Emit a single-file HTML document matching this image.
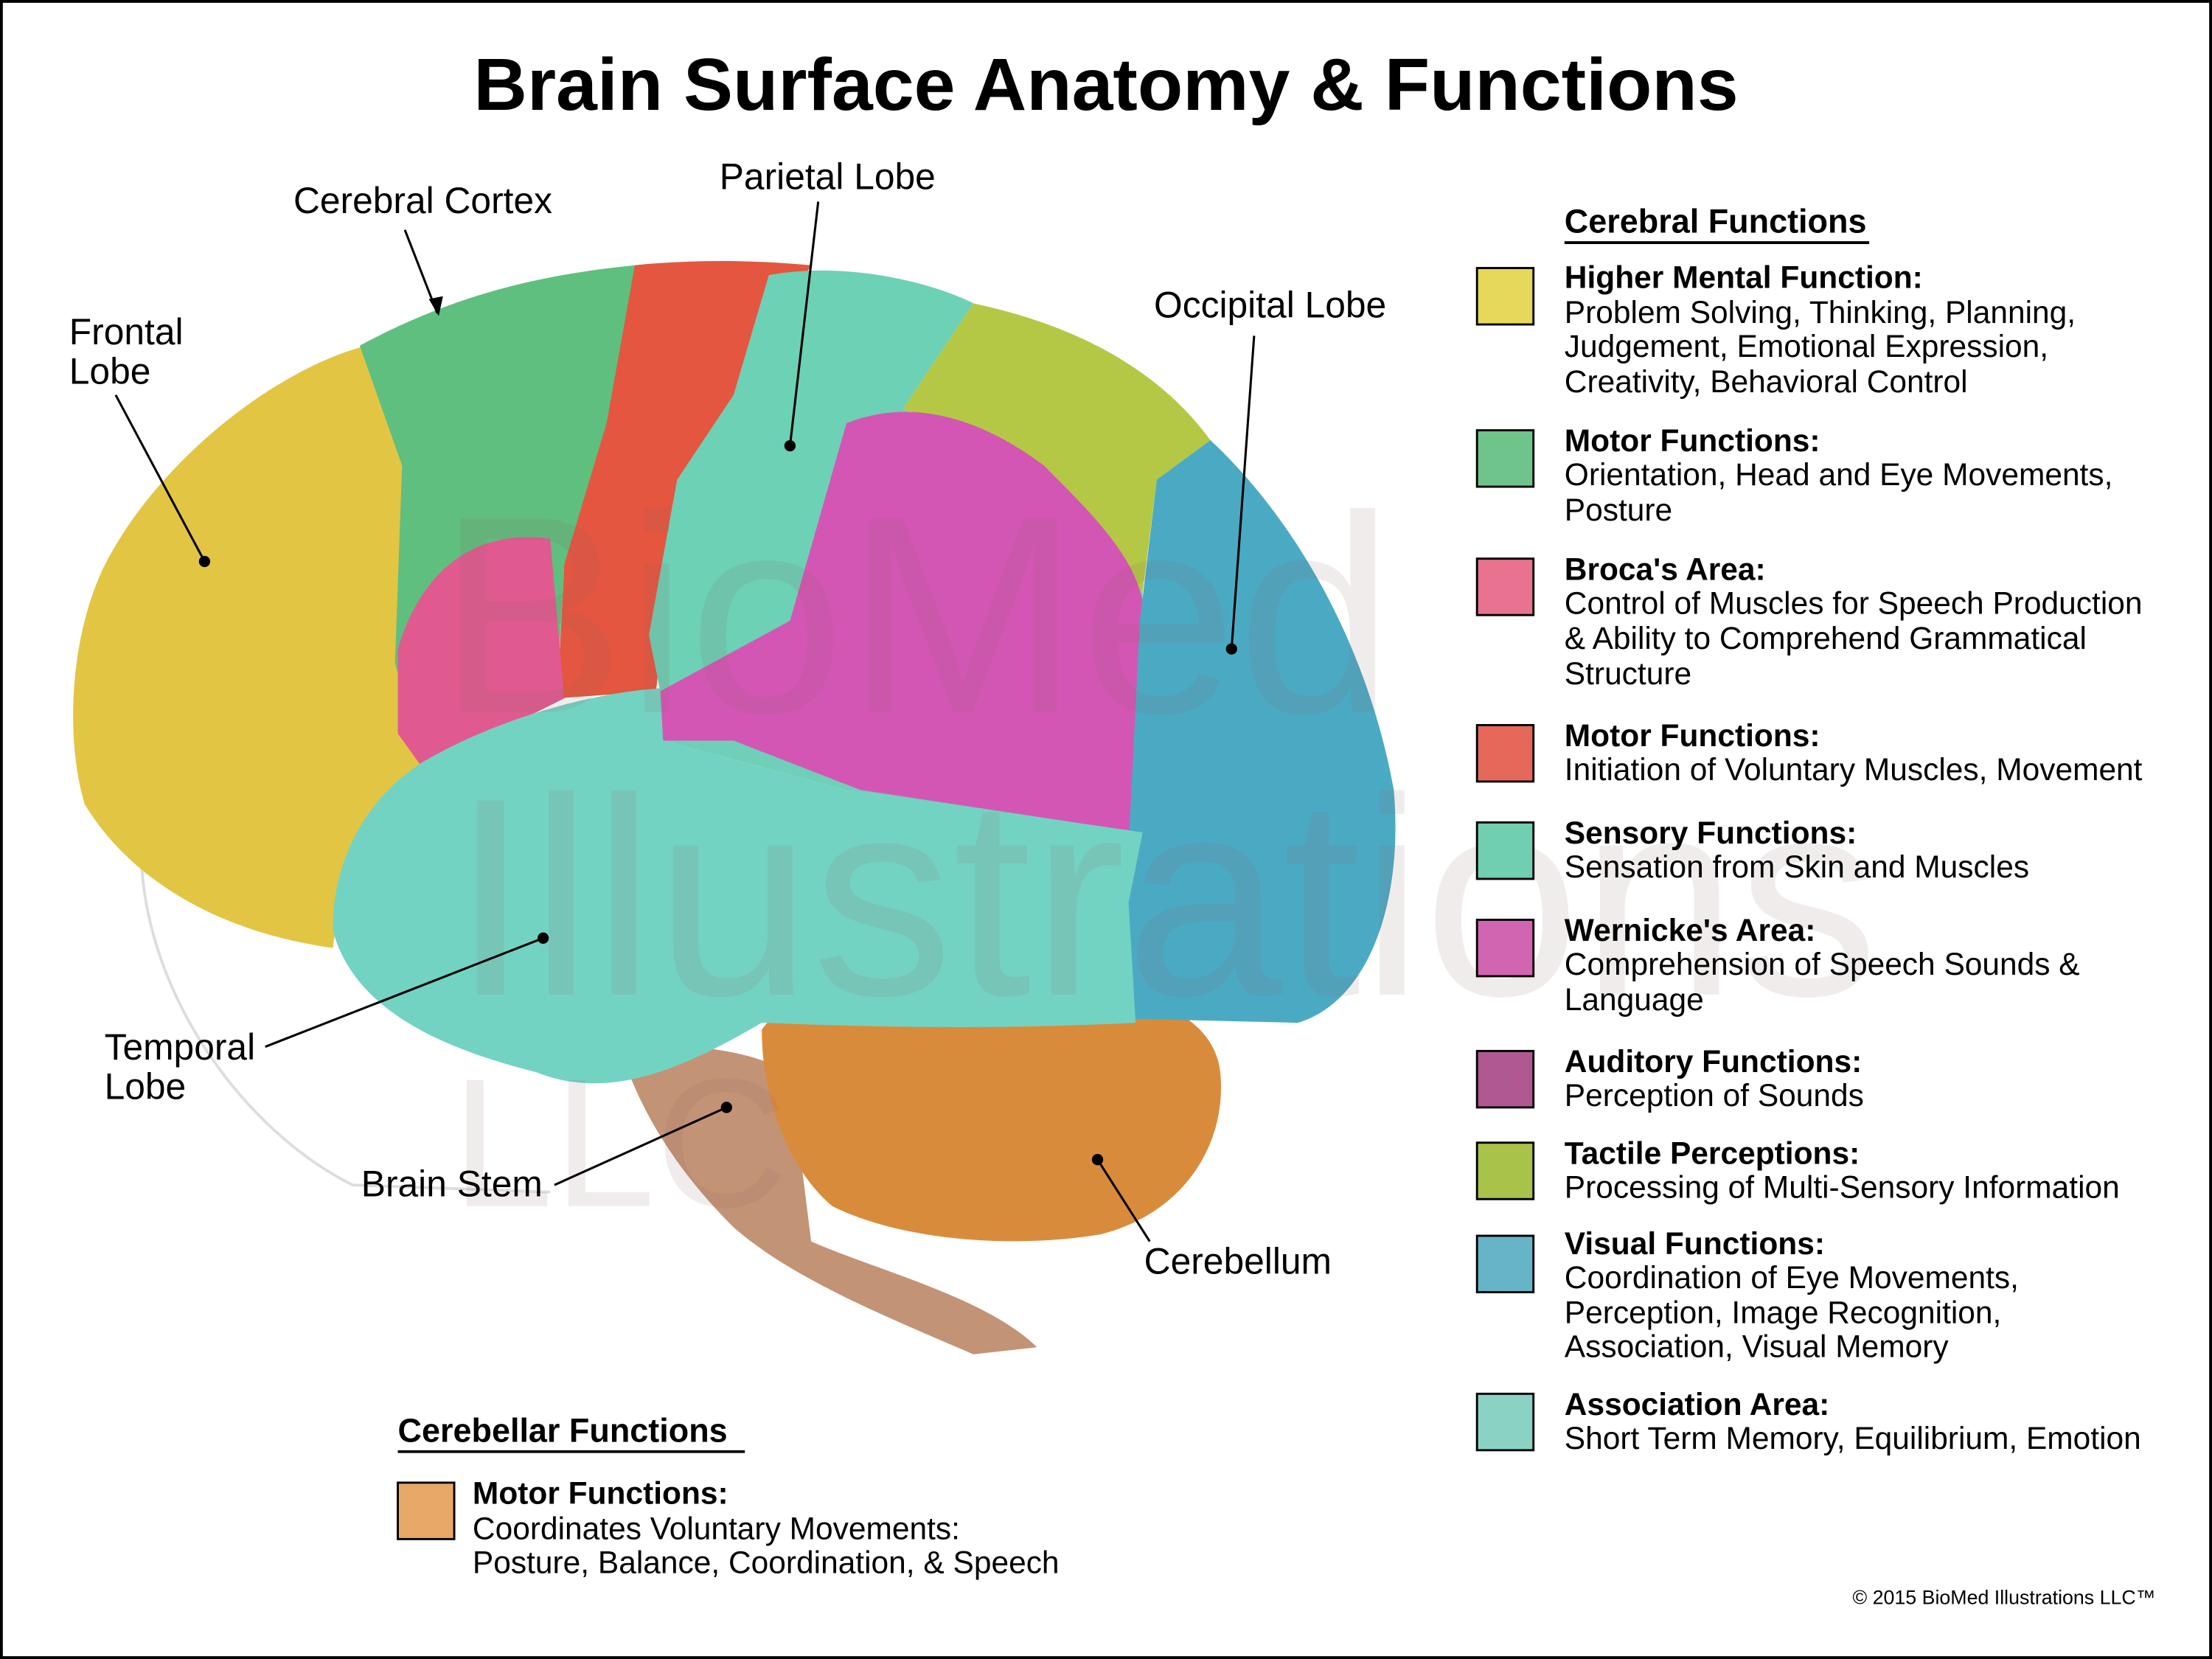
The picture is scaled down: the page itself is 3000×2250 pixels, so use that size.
<!DOCTYPE html>
<html><head><meta charset="utf-8"><style>
html,body{margin:0;padding:0;background:#fff}
svg{display:block}
text{font-family:"Liberation Sans",Arial,sans-serif;fill:#000}
</style></head><body>
<svg width="3000" height="2250" viewBox="0 0 1568 1176" xmlns="http://www.w3.org/2000/svg">
<rect x="1" y="1" width="1566" height="1174" fill="#fff" stroke="#000" stroke-width="2"/>
<text x="784" y="78" font-size="52.5" font-weight="bold" text-anchor="middle">Brain Surface Anatomy &amp; Functions</text>

<path d="M100,600 C100,700 170,800 250,840 L390,845" fill="none" stroke="#ddd" stroke-width="2"/>

<path d="M440,745 C480,740 520,740 560,760 L575,880 C620,900 700,920 735,955 L690,960 C620,930 560,905 520,870 C480,830 455,790 440,745 Z" fill="#c39375"/>

<path d="M540,730 C560,700 640,690 720,695 C800,695 860,715 865,760 C870,810 840,860 780,875 C720,885 640,880 590,855 C560,830 540,780 540,730 Z" fill="#d98b3c"/>

<path d="M300,540 C360,505 430,490 470,488 L560,440 L600,300 L640,290 L700,310 L780,390 L810,420 L808,590 L600,560 L470,525 Z" fill="#6fcfb8"/>

<path d="M260,245 C200,260 120,320 80,390 C50,440 45,520 60,570 C90,620 150,660 236,672 C245,600 270,560 300,540 L285,470 L285,320 Z" fill="#e3c544"/>
<path d="M255,245 C320,210 380,195 450,188 L440,300 L400,400 L395,490 L300,540 L280,470 L285,330 Z" fill="#5fbf7f"/>
<path d="M450,188 C490,184 530,184 575,188 L520,280 L480,360 L465,490 L395,495 L400,400 L430,300 Z" fill="#e4563f"/>
<path d="M282,460 C300,400 340,375 390,382 L400,495 L300,545 L282,520 Z" fill="#e05a90"/>
<path d="M545,195 C600,185 660,200 690,215 L640,290 L600,330 L560,440 L470,500 L460,450 L480,340 L520,280 Z" fill="#6dd1b5"/>
<path d="M690,215 C760,230 820,260 858,312 L820,340 L810,420 L780,390 L700,310 L640,290 Z" fill="#b4c845"/>
<path d="M600,300 C650,280 700,300 740,330 C780,370 810,400 812,440 L808,590 L610,560 L520,525 L470,525 L468,490 L560,440 Z" fill="#d456b4"/>
<path d="M858,312 C920,370 970,460 988,560 C995,640 970,710 920,725 L795,722 L800,600 L808,440 L820,340 Z" fill="#4aaac4"/>
<path d="M300,540 C360,505 430,490 468,488 L470,525 L600,560 L810,590 L800,640 L805,725 C700,730 620,728 540,725 C480,760 430,780 380,760 C300,740 250,710 236,660 C235,610 260,565 300,540 Z" fill="#73d3c3"/>

<g font-family="Liberation Sans,sans-serif">
<text x="310" y="505" font-size="200" style="fill:#8a6060;fill-opacity:.12">BioMed</text>
<text x="320" y="705" font-size="200" style="fill:#8a6060;fill-opacity:.12">Illustrations</text>
<text x="320" y="855" font-size="130" style="fill:#8a6060;fill-opacity:.12">LLC</text>
</g>

<g stroke="#000" stroke-width="1.6" fill="none">
<line x1="82" y1="280" x2="145" y2="398"/>
<line x1="287" y1="163" x2="310" y2="222"/>
<line x1="580" y1="143" x2="560" y2="316"/>
<line x1="889" y1="238" x2="873" y2="460"/>
<line x1="188" y1="742" x2="385" y2="665"/>
<line x1="393" y1="840" x2="515" y2="785"/>
<line x1="815" y1="880" x2="778" y2="822"/>
</g>
<path d="M304,212 L311,224 L314,210 Z" fill="#000"/>
<g fill="#000">
<circle cx="145" cy="398" r="4"/><circle cx="560" cy="316" r="4"/><circle cx="873" cy="460" r="4"/>
<circle cx="385" cy="665" r="4"/><circle cx="515" cy="785" r="4"/><circle cx="778" cy="822" r="4"/>
</g>
<g font-size="26">
<text x="49" y="244">Frontal</text><text x="49" y="272">Lobe</text>
<text x="208" y="151">Cerebral Cortex</text>
<text x="510" y="134">Parietal Lobe</text>
<text x="818" y="225">Occipital Lobe</text>
<text x="74" y="751">Temporal</text><text x="74" y="779">Lobe</text>
<text x="256" y="848">Brain Stem</text>
<text x="811" y="903">Cerebellum</text>
</g>

<text x="1109" y="165" font-size="23.5" font-weight="bold">Cerebral Functions</text>
<line x1="1109" y1="172" x2="1325" y2="172" stroke="#000" stroke-width="2"/>
<g stroke="#000" stroke-width="1.5">
<rect x="1047" y="190" width="40" height="40" fill="#e6d85a"/>
<rect x="1047" y="305" width="40" height="40" fill="#6fc48b"/>
<rect x="1047" y="396" width="40" height="40" fill="#e8728f"/>
<rect x="1047" y="514" width="40" height="40" fill="#e5685a"/>
<rect x="1047" y="583" width="40" height="40" fill="#6fcfb0"/>
<rect x="1047" y="652" width="40" height="40" fill="#d265b2"/>
<rect x="1047" y="745" width="40" height="40" fill="#b05890"/>
<rect x="1047" y="810" width="40" height="40" fill="#a8c24a"/>
<rect x="1047" y="876" width="40" height="40" fill="#66b4c8"/>
<rect x="1047" y="988" width="40" height="40" fill="#8ad3c4"/>
<rect x="282" y="1051" width="40" height="40" fill="#e8a868"/>
</g>
<g font-size="22.2">
<text x="1109" y="204" font-weight="bold">Higher Mental Function:</text>
<text x="1109" y="229">Problem Solving, Thinking, Planning,</text>
<text x="1109" y="253">Judgement, Emotional Expression,</text>
<text x="1109" y="278">Creativity, Behavioral Control</text>
<text x="1109" y="320" font-weight="bold">Motor Functions:</text>
<text x="1109" y="344">Orientation, Head and Eye Movements,</text>
<text x="1109" y="369">Posture</text>
<text x="1109" y="411" font-weight="bold">Broca's Area:</text>
<text x="1109" y="435">Control of Muscles for Speech Production</text>
<text x="1109" y="460">&amp; Ability to Comprehend Grammatical</text>
<text x="1109" y="485">Structure</text>
<text x="1109" y="529" font-weight="bold">Motor Functions:</text>
<text x="1109" y="553">Initiation of Voluntary Muscles, Movement</text>
<text x="1109" y="598" font-weight="bold">Sensory Functions:</text>
<text x="1109" y="622">Sensation from Skin and Muscles</text>
<text x="1109" y="667" font-weight="bold">Wernicke's Area:</text>
<text x="1109" y="691">Comprehension of Speech Sounds &amp;</text>
<text x="1109" y="716">Language</text>
<text x="1109" y="760" font-weight="bold">Auditory Functions:</text>
<text x="1109" y="784">Perception of Sounds</text>
<text x="1109" y="825" font-weight="bold">Tactile Perceptions:</text>
<text x="1109" y="849">Processing of Multi-Sensory Information</text>
<text x="1109" y="889" font-weight="bold">Visual Functions:</text>
<text x="1109" y="913">Coordination of Eye Movements,</text>
<text x="1109" y="938">Perception, Image Recognition,</text>
<text x="1109" y="962">Association, Visual Memory</text>
<text x="1109" y="1003" font-weight="bold">Association Area:</text>
<text x="1109" y="1027">Short Term Memory, Equilibrium, Emotion</text>
<text x="282" y="1022" font-size="23.5" font-weight="bold">Cerebellar Functions</text>
<text x="335" y="1066" font-weight="bold">Motor Functions:</text>
<text x="335" y="1091">Coordinates Voluntary Movements:</text>
<text x="335" y="1115">Posture, Balance, Coordination, &amp; Speech</text>
</g>
<line x1="282" y1="1029" x2="528" y2="1029" stroke="#000" stroke-width="2"/>
<text x="1528" y="1137" font-size="14" text-anchor="end">© 2015 BioMed Illustrations LLC™</text>
</svg>
</body></html>
